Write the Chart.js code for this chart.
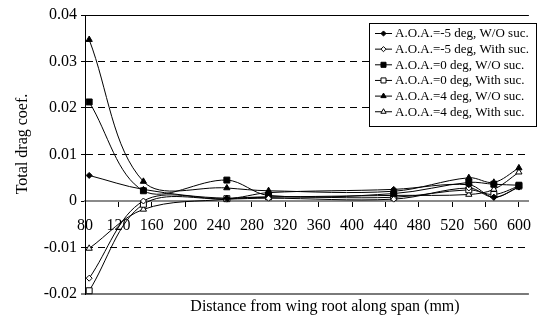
<!DOCTYPE html>
<html><head><meta charset="utf-8">
<script src="https://cdn.jsdelivr.net/npm/chart.js@4"></script>
<style>html,body{margin:0;padding:0;background:#fff}canvas{display:block}</style>
</head><body>
<canvas id="c" width="541" height="320"></canvas>
<script>
const distances = [85, 150, 250, 300, 450, 540, 570, 600];
const seriesLabels = [
  'A.O.A.=-5 deg, W/O suc.',
  'A.O.A.=-5 deg, With suc.',
  'A.O.A.=0 deg, W/O suc.',
  'A.O.A.=0 deg, With suc.',
  'A.O.A.=4 deg, W/O suc.',
  'A.O.A.=4 deg, With suc.'
];
const aoaM5WithoutSuction = [0.0055, 0.0025, 0.0006, 0.0018, 0.0025, 0.0035, 0.0008, 0.0030];
const aoaM5WithSuction    = [-0.0166, 0.0000, 0.0004, 0.0006, 0.0004, 0.0028, 0.0008, 0.0030];
const aoa0WithoutSuction  = [0.0213, 0.0022, 0.0045, 0.0012, 0.0016, 0.0040, 0.0036, 0.0034];
const aoa0WithSuction     = [-0.0193, -0.0007, 0.0005, 0.0009, 0.0008, 0.0024, 0.0014, 0.0032];
const aoa4WithoutSuction  = [0.0347, 0.0042, 0.0028, 0.0022, 0.0021, 0.0050, 0.0040, 0.0071];
const aoa4WithSuction     = [-0.0102, -0.0018, 0.0004, 0.0008, 0.0012, 0.0014, 0.0025, 0.0062];
const xTickValues = [80, 120, 160, 200, 240, 280, 320, 360, 400, 440, 480, 520, 560, 600];
const xTickLabels = ['80','120','160','200','240','280','320','360','400','440','480','520','560','600'];
const yTickValues = [-0.02, -0.01, 0, 0.01, 0.02, 0.03, 0.04];
const yTickLabels = ['-0.02','-0.01','0','0.01','0.02','0.03','0.04'];
const xTitle = 'Distance from wing root along span (mm)';
const yTitle = 'Total drag coef.';

const FONT = "'Liberation Serif', 'Times New Roman', serif";
Chart.defaults.font.family = FONT;
Chart.defaults.color = '#000';

const seriesValues = [aoaM5WithoutSuction, aoaM5WithSuction, aoa0WithoutSuction, aoa0WithSuction, aoa4WithoutSuction, aoa4WithSuction];
const styles = [
  {pointStyle: 'rectRot', fill: '#000', r: 3},
  {pointStyle: 'rectRot', fill: '#fff', r: 3},
  {pointStyle: 'rect', fill: '#000', r: 4.2},
  {pointStyle: 'rect', fill: '#fff', r: 4.2},
  {pointStyle: 'triangle', fill: '#000', r: 3.6},
  {pointStyle: 'triangle', fill: '#fff', r: 3.6}
];

const datasets = seriesValues.map((vals, i) => ({
  label: seriesLabels[i],
  data: distances.map((x, j) => ({x: x, y: vals[j]})),
  borderColor: '#000',
  borderWidth: 1,
  tension: 0.35,
  pointStyle: styles[i].pointStyle,
  pointRadius: styles[i].r,
  pointHoverRadius: styles[i].r,
  pointBackgroundColor: styles[i].fill,
  pointBorderColor: '#000',
  pointBorderWidth: 1,
  fill: false,
  clip: false
}));

const near = (a, b) => Math.abs(a - b) < 1e-9;

const overlay = {
  id: 'overlay',
  afterDraw(chart) {
    const ctx = chart.ctx;
    ctx.save();
    ctx.fillStyle = '#000';
    ctx.font = '16px ' + FONT;
    ctx.textAlign = 'center';
    ctx.textBaseline = 'middle';
    ctx.fillText(xTitle, 325, 307);
    ctx.translate(22.5, 144);
    ctx.rotate(-Math.PI / 2);
    ctx.fillText(yTitle, 0, 0);
    ctx.restore();

    ctx.save();
    const bx = 369, by = 23, bw = 168, bh = 104;
    ctx.fillStyle = '#fff';
    ctx.fillRect(bx, by, bw, bh);
    ctx.strokeStyle = '#000';
    ctx.lineWidth = 1;
    ctx.strokeRect(bx + 0.5, by + 0.5, bw - 1, bh - 1);
    ctx.font = '13px ' + FONT;
    ctx.textAlign = 'left';
    ctx.textBaseline = 'middle';
    chart.data.datasets.forEach((ds, i) => {
      const y = 33.5 + i * 15.65;
      ctx.strokeStyle = '#000';
      ctx.lineWidth = 1;
      ctx.beginPath();
      ctx.moveTo(375, y);
      ctx.lineTo(392, y);
      ctx.stroke();
      ctx.fillStyle = ds.pointBackgroundColor;
      Chart.helpers.drawPoint(ctx, {pointStyle: ds.pointStyle, radius: ds.pointRadius * 0.85, borderWidth: 1, rotation: 0}, 383.5, y);
      ctx.fillStyle = '#000';
      ctx.fillText(ds.label, 395, y + 0.5);
    });
    ctx.restore();
  }
};

new Chart(document.getElementById('c'), {
  type: 'line',
  data: {datasets: datasets},
  plugins: [overlay],
  options: {
    responsive: false,
    animation: false,
    events: [],
    layout: {padding: {left: 0, top: 15, right: 5, bottom: 26}},
    plugins: {legend: {display: false}, title: {display: false}, tooltip: {enabled: false}},
    scales: {
      x: {
        type: 'linear',
        position: {y: 0},
        min: 80,
        max: 612,
        afterBuildTicks: s => { s.ticks = xTickValues.map(v => ({value: v})); },
        ticks: {
          autoSkip: false, maxRotation: 0, minRotation: 0,
          font: {size: 16}, padding: 10, color: '#000',
          callback: (v, i) => xTickLabels[i]
        },
        grid: {drawOnChartArea: false, drawTicks: true, tickLength: 5, color: '#000', tickColor: '#000', tickWidth: 1},
        border: {display: true, color: '#8a8a8a', width: 2}
      },
      y: {
        type: 'linear',
        min: -0.02,
        max: 0.04,
        afterBuildTicks: s => { s.ticks = yTickValues.map(v => ({value: v})); },
        afterFit: s => { s.width = 85; },
        ticks: {
          font: {size: 16}, padding: 4, color: '#000',
          callback: (v, i) => yTickLabels[i]
        },
        grid: {
          drawOnChartArea: true, drawTicks: true, tickLength: 4, tickColor: '#000', tickWidth: 1,
          color: c => {
            if (!c.tick) return '#000';
            if (near(c.tick.value, -0.02)) return '#7a7a7a';
            if (near(c.tick.value, 0)) return '#8a8a8a';
            return '#000';
          },
          lineWidth: c => (c.tick && near(c.tick.value, -0.02)) ? 2 : 1
        },
        border: {
          display: true, color: '#000', width: 1,
          dash: c => {
            if (!c.tick) return [];
            const v = c.tick.value;
            return (near(v, 0.04) || near(v, -0.02) || near(v, 0)) ? [] : [7, 5];
          }
        }
      }
    }
  }
});
</script>
</body></html>
